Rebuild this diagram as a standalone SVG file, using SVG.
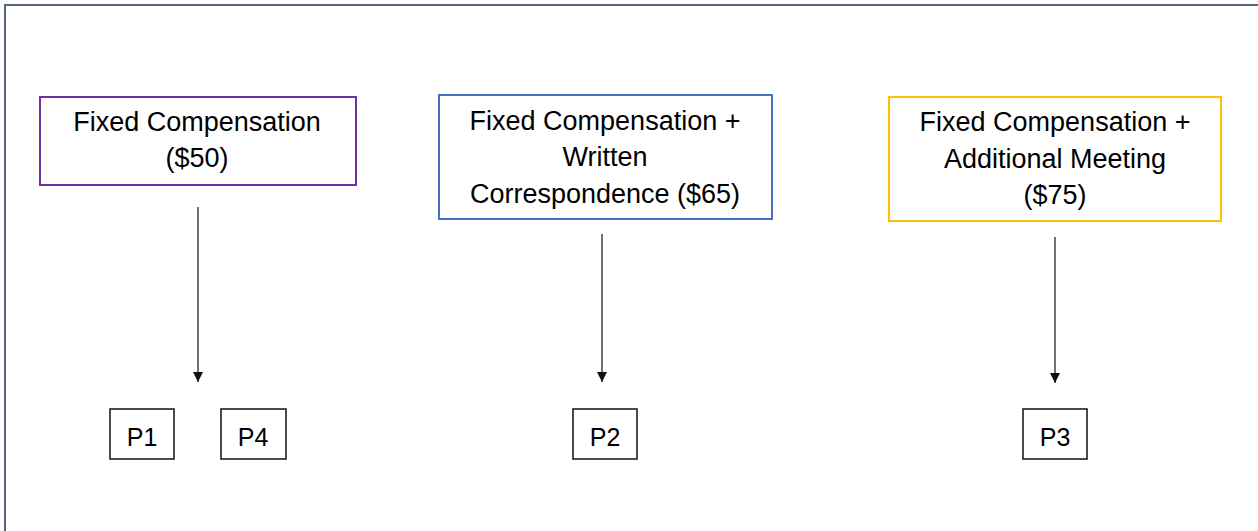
<svg xmlns="http://www.w3.org/2000/svg" width="1258" height="531" viewBox="0 0 1258 531">
<style>
.t{font-family:"Liberation Sans",Arial,sans-serif;font-size:27px;fill:#000;text-anchor:middle}
.s{font-family:"Liberation Sans",Arial,sans-serif;font-size:25px;fill:#000;text-anchor:middle}
.p{fill:#fff;stroke:#111;stroke-width:1.5}
.c{stroke:#111;stroke-width:1.2;fill:none}
</style>
<defs>
<marker id="ah" viewBox="0 0 10 10" refX="10" refY="5" markerWidth="10" markerHeight="10" markerUnits="userSpaceOnUse" orient="auto">
<path d="M0,0 L10,5 L0,10 z" fill="#111"/>
</marker>
</defs>
<rect x="0" y="0" width="1258" height="531" fill="#fff"/>
<path d="M5,531 V5 H1258" fill="none" stroke="#5a6680" stroke-width="2"/>
<g id="connectors">
<line class="c" x1="198" y1="207" x2="198" y2="382" marker-end="url(#ah)"/>
<line class="c" x1="602" y1="234" x2="602" y2="382" marker-end="url(#ah)"/>
<line class="c" x1="1055" y1="237" x2="1055" y2="383" marker-end="url(#ah)"/>
</g>
<g id="box1">
<rect x="40" y="97" width="316" height="88" fill="#fff" stroke="#7030a0" stroke-width="2"/>
<text class="t" x="197" y="131">Fixed Compensation</text>
<text class="t" x="197" y="167">($50)</text>
</g>
<g id="box2">
<rect x="439" y="95" width="333" height="124" fill="#fff" stroke="#4472c4" stroke-width="2"/>
<text class="t" x="605" y="130">Fixed Compensation +</text>
<text class="t" x="605" y="166">Written</text>
<text class="t" x="605" y="203">Correspondence ($65)</text>
</g>
<g id="box3">
<rect x="889" y="97" width="332" height="124" fill="#fff" stroke="#ffc000" stroke-width="2"/>
<text class="t" x="1055" y="131">Fixed Compensation +</text>
<text class="t" x="1055" y="168">Additional Meeting</text>
<text class="t" x="1055" y="204">($75)</text>
</g>
<g id="p1"><rect class="p" x="110" y="409" width="64" height="50"/><text class="s" x="142" y="446">P1</text></g>
<g id="p4"><rect class="p" x="221" y="409" width="65" height="50"/><text class="s" x="253" y="446">P4</text></g>
<g id="p2"><rect class="p" x="573" y="409" width="64" height="50"/><text class="s" x="605" y="446">P2</text></g>
<g id="p3"><rect class="p" x="1023" y="409" width="64" height="50"/><text class="s" x="1055" y="446">P3</text></g>
</svg>
